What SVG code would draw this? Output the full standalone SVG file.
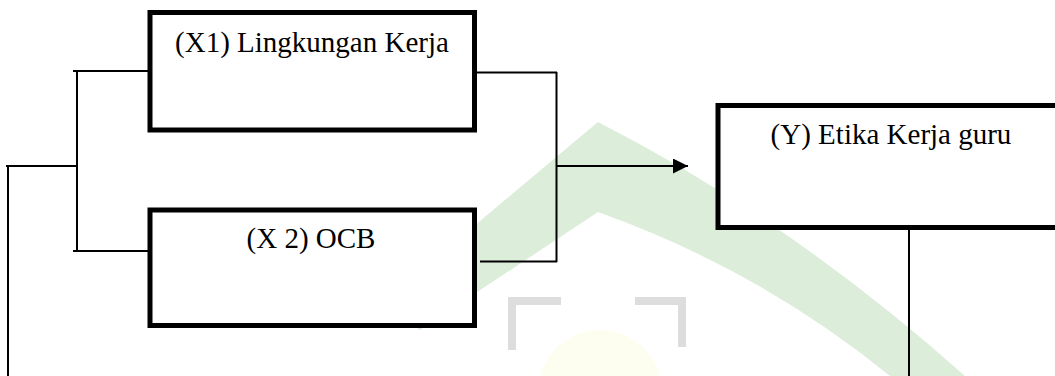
<svg xmlns="http://www.w3.org/2000/svg" width="1055" height="376" viewBox="0 0 1055 376">
  <style>
    .box { fill: #ffffff; stroke: #000000; stroke-width: 5; }
    .lbl { font-family: "Liberation Serif", "DejaVu Serif", serif; font-size: 29px; fill: #000000; text-anchor: middle; }
    .conn { fill: none; stroke: #000000; stroke-width: 2; }
  </style>
  <defs>
    <marker id="arrow" markerUnits="userSpaceOnUse" markerWidth="16" markerHeight="16" refX="15" refY="7.5" orient="auto">
      <polygon points="0,0 15,7.5 0,15" fill="#000000"/>
    </marker>
  </defs>

  <g id="watermark">
    <circle cx="600" cy="392" r="62" fill="#fdfdf0"/>
    <path d="M380,305 L598,122 Q790,220 965,376 L890,376 Q760,270 598,212 L420,330 Z" fill="#dcedda"/>
    <path d="M512,350 V301 H561" fill="none" stroke="#dddddd" stroke-width="8"/>
    <path d="M635,301 H682 V347" fill="none" stroke="#dddddd" stroke-width="8"/>
  </g>

  <g id="connectors">
    <path class="conn" d="M73,71 H148"/>
    <path class="conn" d="M77,71 V251"/>
    <path class="conn" d="M73,251 H148"/>
    <path class="conn" d="M6,166 H78"/>
    <path class="conn" d="M8,166 V376"/>
    <path class="conn" d="M477,72.5 H557"/>
    <path class="conn" d="M556.5,72 V262"/>
    <path class="conn" d="M480,261.5 H557"/>
    <path class="conn" d="M557,166 H688" marker-end="url(#arrow)"/>
    <path class="conn" d="M909,229 V376"/>
  </g>

  <g id="node-x1">
    <rect class="box" x="150" y="12.5" width="324.5" height="117.5"/>
    <text class="lbl" x="312" y="52">(X1) Lingkungan Kerja</text>
  </g>

  <g id="node-x2">
    <rect class="box" x="150" y="210" width="324.5" height="115.5"/>
    <text class="lbl" x="311" y="248">(X 2) OCB</text>
  </g>

  <g id="node-y">
    <rect class="box" x="718" y="105.5" width="346" height="122"/>
    <text class="lbl" x="891" y="144">(Y) Etika Kerja guru</text>
  </g>
</svg>
